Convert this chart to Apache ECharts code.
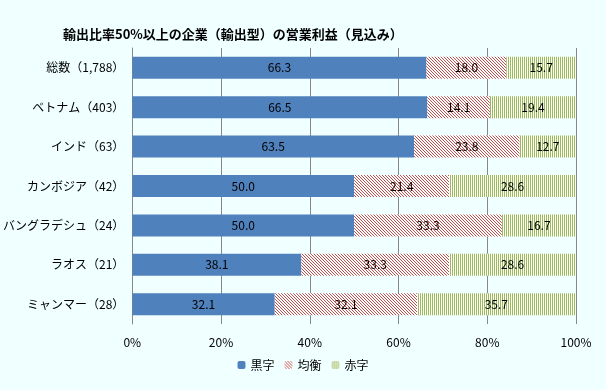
<!DOCTYPE html>
<html><head><meta charset="utf-8">
<script src="https://cdn.jsdelivr.net/npm/echarts@6/dist/echarts.min.js"></script>
<style>html,body{margin:0;padding:0;background:#F0FFFF;}#c{width:606px;height:390px;}</style>
</head><body><div id="c"></div>
<script>
const categories = ['総数（1,788）','ベトナム（403）','インド（63）','カンボジア（42）','バングラデシュ（24）','ラオス（21）','ミャンマー（28）'];
const seriesNames = ['黒字','均衡','赤字'];
const kuroji = [66.3, 66.5, 63.5, 50.0, 50.0, 38.1, 32.1];
const kinkou = [18.0, 14.1, 23.8, 21.4, 33.3, 33.3, 32.1];
const akaji = [15.7, 19.4, 12.7, 28.6, 16.7, 28.6, 35.7];
const xTicks = ['0%','20%','40%','60%','80%','100%'];

function diagPattern(){
  const n=3;
  const c=document.createElement('canvas'); c.width=n; c.height=n;
  const g=c.getContext('2d'); g.fillStyle='#ffffff'; g.fillRect(0,0,n,n);
  g.fillStyle='#C0504D';
  for(let i=0;i<n;i++){ g.fillRect(i,i,1,1); }
  return c;
}
function vertPattern(){
  const c=document.createElement('canvas'); c.width=2; c.height=2;
  const g=c.getContext('2d'); g.fillStyle='#ffffff'; g.fillRect(0,0,2,2);
  g.fillStyle='#9BBB59'; g.fillRect(0,0,1,2);
  return c;
}
const font = '"Noto Sans CJK JP", "Noto Sans", sans-serif';
const lbl = {show:true, position:'inside', color:'#000', fontSize:12, fontFamily:font, formatter:p=>p.value.toFixed(1)};
const chart = echarts.init(document.getElementById('c'));
chart.setOption({
  backgroundColor:'#F0FFFF',
  animation:false,
  title:{text:'輸出比率50%以上の企業（輸出型）の営業利益（見込み）', left:58, top:23,
    textStyle:{fontSize:13, fontWeight:'bold', color:'#000', fontFamily:font}},
  legend:{data:seriesNames, bottom:14, left:'center', itemWidth:8, itemHeight:8, itemGap:10,
    textStyle:{fontSize:12, color:'#000', fontFamily:font}},
  grid:{left:131, right:30, top:48, bottom:66, containLabel:false},
  xAxis:{type:'value', min:0, max:100, interval:20,
    axisLabel:{formatter:v=>xTicks[v/20], color:'#000', fontSize:12, fontFamily:font, margin:12},
    splitLine:{show:true, lineStyle:{color:'#888888', width:1}},
    axisLine:{show:false}, axisTick:{show:false}},
  yAxis:{type:'category', data:categories, inverse:true,
    axisLabel:{color:'#000', fontSize:12, fontFamily:font, margin:8},
    axisLine:{show:true, lineStyle:{color:'#888888'}}, axisTick:{show:false}},
  series:[
    {name:seriesNames[0], type:'bar', stack:'a', data:kuroji, barWidth:22,
      itemStyle:{color:'#4F81BD'}, label:lbl},
    {name:seriesNames[1], type:'bar', stack:'a', data:kinkou, barWidth:22,
      itemStyle:{color:{image:diagPattern(), repeat:'repeat'}}, label:lbl},
    {name:seriesNames[2], type:'bar', stack:'a', data:akaji, barWidth:22,
      itemStyle:{color:{image:vertPattern(), repeat:'repeat'}}, label:lbl}
  ]
});
</script></body></html>
